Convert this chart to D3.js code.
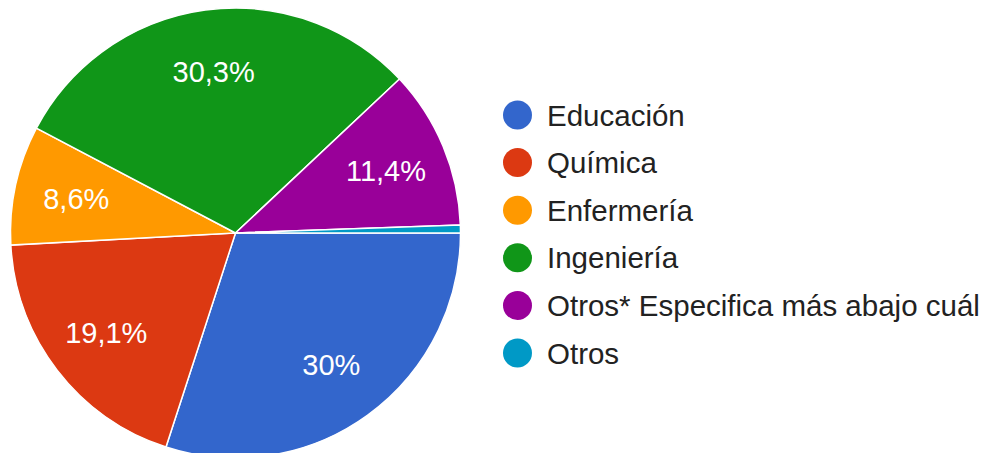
<!DOCTYPE html>
<html>
<head>
<meta charset="utf-8">
<script src="https://cdn.jsdelivr.net/npm/d3@7"></script>
<style>
  html, body { margin: 0; padding: 0; background: #ffffff; }
  svg { display: block; }
</style>
</head>
<body>
<svg id="chart" width="986" height="453"></svg>
<script>
const categories = ["Educación", "Química", "Enfermería", "Ingeniería", "Otros* Especifica más abajo cuál", "Otros"];
const counts = [105, 67, 30, 106, 40, 2];
const colors = ["#3366cc", "#dc3912", "#ff9900", "#109618", "#990099", "#0099c6"];

const data = categories.map((c, i) => ({ name: c, value: counts[i], color: colors[i] }));
const total = d3.sum(counts);

const svg = d3.select("#chart");
const cx = 235.5, cy = 233, R = 225;
const labelR = 163;
const font = "'Liberation Sans', Arial, sans-serif";

const pie = d3.pie().sort(null).value(d => d.value)
  .startAngle(Math.PI / 2).endAngle(Math.PI / 2 + 2 * Math.PI);
const arcs = pie(data);
const arc = d3.arc().innerRadius(0).outerRadius(R);
const labelArc = d3.arc().innerRadius(labelR).outerRadius(labelR);

const g = svg.append("g").attr("transform", `translate(${cx},${cy})`);
g.selectAll("path.slice").data(arcs).enter().append("path")
  .attr("class", "slice")
  .attr("d", arc)
  .attr("fill", d => d.data.color)
  .attr("stroke", "#ffffff")
  .attr("stroke-width", 1.5);

const fmt = v => {
  const p = (v / total * 100).toFixed(1).replace(".", ",");
  return p.replace(/,0$/, "") + "%";
};

g.selectAll("text.lbl").data(arcs.filter(d => d.data.value / total >= 0.05)).enter().append("text")
  .attr("class", "lbl")
  .attr("transform", d => `translate(${labelArc.centroid(d)})`)
  .attr("text-anchor", "middle")
  .attr("dy", "0.36em")
  .attr("fill", "#ffffff")
  .style("font-family", font)
  .style("font-size", "29px")
  .text(d => fmt(d.data.value));

const legendY = d3.scalePoint().domain(categories).range([115, 353]);
const lg = svg.append("g");
const items = lg.selectAll("g.item").data(data).enter().append("g")
  .attr("class", "item")
  .attr("transform", d => `translate(517.5,${legendY(d.name)})`);
items.append("circle").attr("r", 14.5).attr("fill", d => d.color);
items.append("text")
  .attr("x", 29.5)
  .attr("y", 10.5)
  .attr("fill", "#222222")
  .style("font-family", font)
  .style("font-size", "29.5px")
  .text(d => d.name);
</script>
</body>
</html>
